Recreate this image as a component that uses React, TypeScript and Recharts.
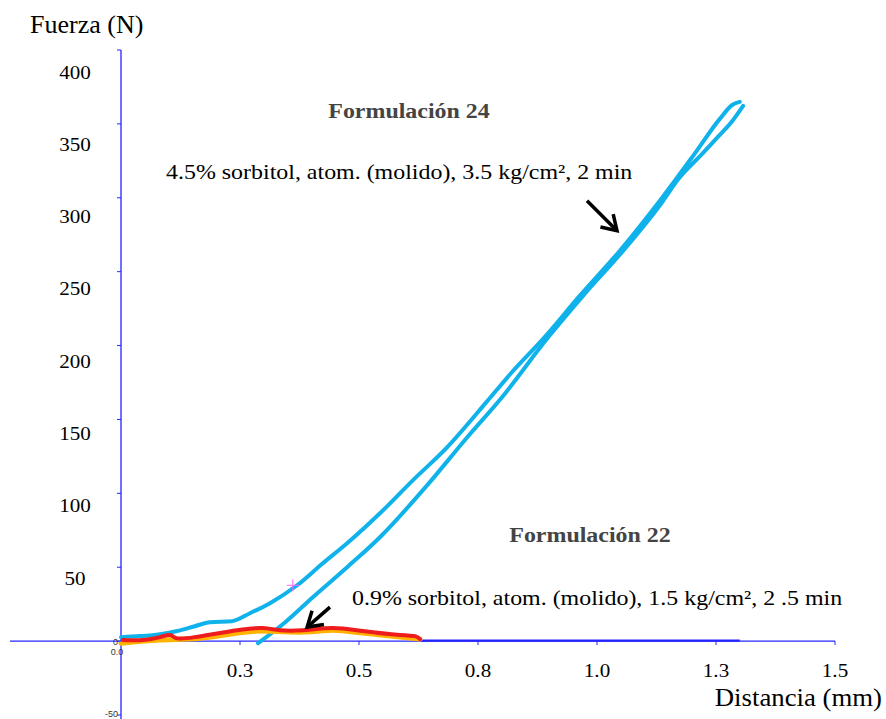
import {
  ComposedChart,
  Line,
  Scatter,
  XAxis,
  YAxis,
  ReferenceLine,
} from "recharts";

// Formulación 24 – loading branch (mm, N)
const f24LoadDist = [0, 0.04, 0.082, 0.118, 0.155, 0.187, 0.233, 0.271, 0.313, 0.37, 0.424, 0.475, 0.544, 0.613, 0.685, 0.769, 0.817, 0.891, 0.964, 1.048, 1.132, 1.202, 1.258, 1.284, 1.3];
const f24LoadForce = [2.7, 3.4, 4.7, 6.8, 10.1, 12.8, 13.5, 18.9, 25.7, 37.8, 52.7, 66.2, 86.5, 108.8, 131.1, 162.2, 180.4, 206.1, 233.8, 264.2, 298, 328.4, 353.4, 362.8, 364.9];
// Formulación 24 – unloading branch
const f24UnloadDist = [1.307, 1.286, 1.254, 1.223, 1.168, 1.139, 1.055, 0.971, 0.897, 0.8, 0.727, 0.643, 0.544, 0.475, 0.403, 0.345, 0.288];
const f24UnloadForce = [362.2, 352.7, 341.2, 330.4, 311.5, 298, 264.2, 233.8, 205.4, 164.9, 137.8, 105.4, 70.3, 50, 29.7, 12.8, -1.4];

// Formulación 22 – two runs
const f22RedDist = [0.004, 0.046, 0.082, 0.103, 0.116, 0.155, 0.244, 0.298, 0.334, 0.382, 0.445, 0.508, 0.586, 0.618, 0.628];
const f22RedForce = [0.7, 0.7, 2.7, 4.1, 2.0, 2.7, 7.4, 8.8, 7.4, 7.4, 8.8, 6.8, 4.1, 3.4, 1.4];
const f22OrangeDist = [0, 0.082, 0.166, 0.244, 0.298, 0.382, 0.445, 0.508, 0.586, 0.628];
const f22OrangeForce = [-1.4, 0.7, 2.0, 5.4, 6.8, 6.1, 7.4, 5.4, 2.7, 1.4];
const baseDist = [0.63, 1.3];
const baseForce = [0.4, 0.4];

const markerDist = [0.361];
const markerForce = [37.8];

const xTicks = [0, 0.25, 0.5, 0.75, 1, 1.25, 1.5];
const yTicks = [-50, 0, 50, 100, 150, 200, 250, 300, 350, 400];
const yLabelTicks = [50, 100, 150, 200, 250, 300, 350, 400];

const arrow24 = [{ x: 0.979, y: 298 }, { x: 1.042, y: 277.7 }];
const arrow22 = [{ x: 0.439, y: 23 }, { x: 0.391, y: 9.5 }];

const zip = (xs: number[], ys: number[]) => xs.map((x, i) => ({ x, y: ys[i] }));

const f24Load = zip(f24LoadDist, f24LoadForce);
const f24Unload = zip(f24UnloadDist, f24UnloadForce);
const f22Red = zip(f22RedDist, f22RedForce);
const f22Orange = zip(f22OrangeDist, f22OrangeForce);
const baseData = zip(baseDist, baseForce);
const markerData = zip(markerDist, markerForce);

const SERIF = '"Liberation Serif", "Times New Roman", serif';
const SANS = '"Liberation Sans", Arial, sans-serif';
const AXIS_BLUE = "#2424ff";
const CURVE_BLUE = "#0fb2ea";
const AXIS_X = 121;
const AXIS_Y = 641;

function Txt({ x, y, size, sx = 1.11, anchor = "start", bold = false, fill = "#000", children }: any) {
  return (
    <text
      transform={`translate(${x},${y}) scale(${sx},1)`}
      fontSize={size}
      fontFamily={SERIF}
      fontWeight={bold ? "bold" : "normal"}
      textAnchor={anchor}
      dominantBaseline="central"
      fill={fill}
    >
      {children}
    </text>
  );
}

const XTick = (props: any) => {
  const { x, payload } = props;
  const v = payload.value as number;
  if (v === 0) {
    return (
      <text x={x - 4} y={AXIS_Y + 11} fontSize={9} fontFamily={SANS} textAnchor="middle" dominantBaseline="central" fill="#333">
        0.0
      </text>
    );
  }
  return (
    <g>
      <line x1={x} x2={x} y1={AXIS_Y} y2={AXIS_Y + 4} stroke={AXIS_BLUE} />
      <Txt x={x} y={670} size={19} anchor="middle">{v.toFixed(1)}</Txt>
    </g>
  );
};

const DataYTick = (props: any) => {
  const { y, payload } = props;
  const v = payload.value as number;
  return (
    <g>
      <line x1={AXIS_X - 4} x2={AXIS_X} y1={y} y2={y} stroke={AXIS_BLUE} />
      {v <= 0 && (
        <text x={AXIS_X - 3} y={v < 0 ? y - 1 : y + 1} fontSize={9} fontFamily={SANS} textAnchor="end" dominantBaseline="central" fill="#333">
          {v}
        </text>
      )}
    </g>
  );
};

const LabelYTick = (props: any) => (
  <Txt x={75} y={props.y} size={19} anchor="middle">{props.payload.value}</Txt>
);

const arrowShape = (p: any) => {
  const { x1, y1, x2, y2 } = p;
  const a = Math.atan2(y1 - y2, x1 - x2);
  const L = 17;
  const s = 0.56;
  const w1 = `${x2 + L * Math.cos(a + s)},${y2 + L * Math.sin(a + s)}`;
  const w2 = `${x2 + L * Math.cos(a - s)},${y2 + L * Math.sin(a - s)}`;
  return (
    <g stroke="#000" strokeWidth={3.5} fill="none">
      <line x1={x1} y1={y1} x2={x2} y2={y2} />
      <polyline points={`${w1} ${x2},${y2} ${w2}`} />
    </g>
  );
};

const crossShape = (p: any) => {
  const { cx, cy } = p;
  return (
    <g stroke="#ff66ff" strokeWidth={1}>
      <line x1={cx - 6} x2={cx + 6} y1={cy} y2={cy} />
      <line x1={cx} x2={cx} y1={cy - 6} y2={cy + 6} />
    </g>
  );
};

export default function App() {
  return (
    <div style={{ position: "fixed", left: 0, top: 0, width: 886, height: 719, overflow: "hidden", background: "#fff" }}>
      <ComposedChart width={886} height={720} margin={{ top: 50, right: 51, bottom: 0, left: 8 }}>
        <XAxis
          type="number"
          dataKey="x"
          domain={[-0.2332, 1.5]}
          allowDataOverflow
          ticks={xTicks}
          interval={0}
          height={1}
          axisLine={false}
          tickLine={false}
          tick={(p: any) => <XTick {...p} />}
        />
        <YAxis
          yAxisId="data"
          type="number"
          dataKey="y"
          domain={[-52.7, 400]}
          allowDataOverflow
          ticks={yTicks}
          interval={0}
          width={1}
          axisLine={false}
          tickLine={false}
          tick={(p: any) => <DataYTick {...p} />}
        />
        <YAxis
          yAxisId="labels"
          type="number"
          domain={[-47.5, 415.2]}
          allowDataOverflow
          ticks={yLabelTicks}
          interval={0}
          width={1}
          axisLine={false}
          tickLine={false}
          tick={(p: any) => <LabelYTick {...p} />}
        />
        <ReferenceLine yAxisId="data" y={0} stroke={AXIS_BLUE} strokeWidth={1.3} />
        <ReferenceLine yAxisId="data" x={0} stroke={AXIS_BLUE} strokeWidth={1.3} />
        <Line
          yAxisId="data"
          data={baseData}
          dataKey="y"
          type="linear"
          stroke={AXIS_BLUE}
          strokeWidth={2.2}
          dot={false}
          isAnimationActive={false}
        />
        <Line
          yAxisId="data"
          data={f24Load}
          dataKey="y"
          type="monotone"
          stroke={CURVE_BLUE}
          strokeWidth={4}
          strokeLinecap="round"
          dot={false}
          isAnimationActive={false}
        />
        <Line
          yAxisId="data"
          data={f24Unload}
          dataKey="y"
          type="monotone"
          stroke={CURVE_BLUE}
          strokeWidth={4}
          strokeLinecap="round"
          dot={false}
          isAnimationActive={false}
        />
        <Line
          yAxisId="data"
          data={f22Orange}
          dataKey="y"
          type="natural"
          stroke="#ffb300"
          strokeWidth={5}
          strokeLinecap="round"
          dot={false}
          isAnimationActive={false}
        />
        <Line
          yAxisId="data"
          data={f22Red}
          dataKey="y"
          type="natural"
          stroke="#ee1c1c"
          strokeWidth={4}
          strokeLinecap="round"
          dot={false}
          isAnimationActive={false}
        />
        <Scatter yAxisId="data" data={markerData} dataKey="y" shape={crossShape} isAnimationActive={false} />
        <ReferenceLine yAxisId="data" segment={arrow24} shape={arrowShape} />
        <ReferenceLine yAxisId="data" segment={arrow22} shape={arrowShape} />

        <Txt x={30} y={25} size={25} sx={1.04}>Fuerza (N)</Txt>
        <Txt x={882} y={697} size={26} sx={1.03} anchor="end">Distancia (mm)</Txt>
        <Txt x={409} y={111} size={21} sx={1.14} anchor="middle" bold fill="#444">Formulación 24</Txt>
        <Txt x={166} y={172} size={21} sx={1.14}>4.5% sorbitol, atom. (molido), 3.5 kg/cm², 2 min</Txt>
        <Txt x={590} y={535} size={21} sx={1.14} anchor="middle" bold fill="#444">Formulación 22</Txt>
        <Txt x={352} y={598} size={21} sx={1.14}>0.9% sorbitol, atom. (molido), 1.5 kg/cm², 2 .5 min</Txt>
      </ComposedChart>
    </div>
  );
}
